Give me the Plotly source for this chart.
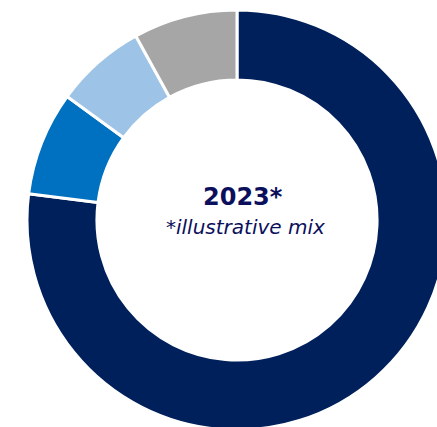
import plotly.graph_objects as go

# Energy mix shares (illustrative), in drawing order clockwise from 12 o'clock
categories = ["Segment A", "Segment B", "Segment C", "Segment D"]
shares = [77, 8, 7, 8]
colors = ["#00205b", "#0070c0", "#9dc3e6", "#a6a6a6"]

title_text = "2023*"
subtitle_text = "*illustrative mix"

fig = go.Figure(
    go.Pie(
        labels=categories,
        values=shares,
        hole=0.667,
        sort=False,
        direction="clockwise",
        rotation=0,
        marker=dict(colors=colors, line=dict(color="white", width=3)),
        textinfo="none",
        hoverinfo="label+percent",
        showlegend=False,
    )
)

fig.add_annotation(
    text=f"<b>{title_text}</b>", x=0.5, y=0.5, xref="paper", yref="paper",
    xshift=6, yshift=23, showarrow=False,
    font=dict(family="DejaVu Sans", size=24, color="#0b0f5c"),
)
fig.add_annotation(
    text=f"<i>{subtitle_text}</i>", x=0.5, y=0.5, xref="paper", yref="paper",
    xshift=8, yshift=-7, showarrow=False,
    font=dict(family="DejaVu Sans", size=20, color="#0b0f5c"),
)

fig.update_layout(
    width=474,
    height=440,
    autosize=False,
    margin=dict(l=0, r=0, t=10, b=10),
    paper_bgcolor="white",
    plot_bgcolor="white",
)

fig.write_html(
    "out.html",
    config={"displayModeBar": False},
    post_script="document.body.style.margin='0';document.body.style.overflow='hidden';",
)
